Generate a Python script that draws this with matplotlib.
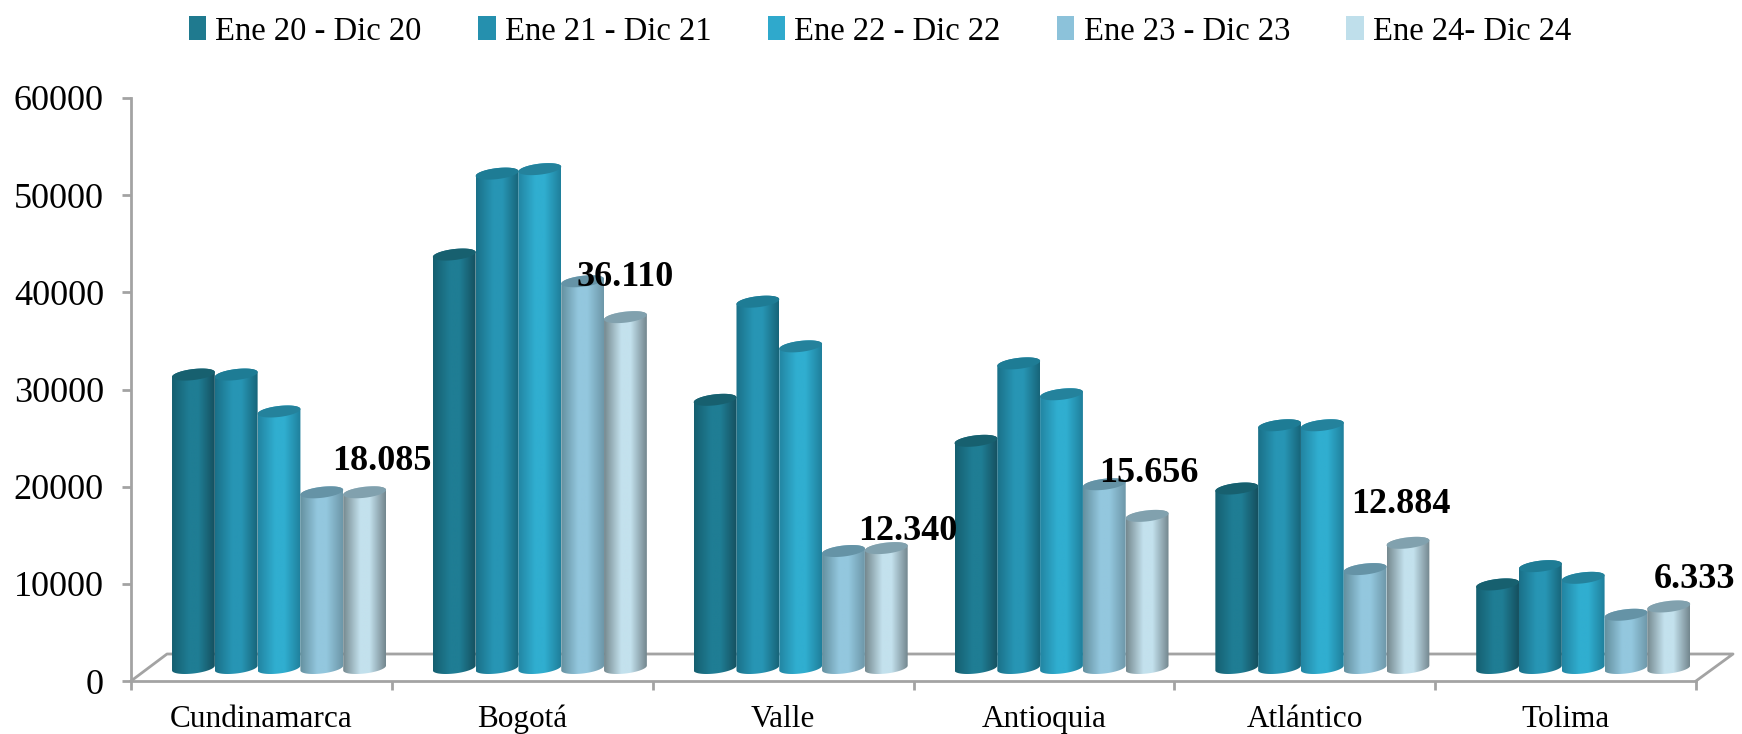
import numpy as np
import matplotlib
matplotlib.use("Agg")
import matplotlib.pyplot as plt
from matplotlib.colors import LinearSegmentedColormap
from matplotlib.patches import Patch, PathPatch
from matplotlib.path import Path

plt.rcParams["font.family"] = ["Liberation Serif", "DejaVu Serif"]

departments = ["Cundinamarca", "Bogotá", "Valle", "Antioquia", "Atlántico", "Tolima"]
series_names = ["Ene 20 - Dic 20", "Ene 21 - Dic 21", "Ene 22 - Dic 22",
                "Ene 23 - Dic 23", "Ene 24- Dic 24"]
ene_20 = [30200, 42550, 27600, 23380, 18470, 8600]
ene_21 = [30200, 50880, 37700, 31350, 24980, 10480]
ene_22 = [26400, 51340, 33100, 28170, 24980, 9280]
ene_23 = [18080, 39800, 12040, 18910, 10180, 5480]
ene_24 = [18085, 36110, 12340, 15656, 12884, 6333]
data_labels = ["18.085", "36.110", "12.340", "15.656", "12.884", "6.333"]
y_ticks = [0, 10000, 20000, 30000, 40000, 50000, 60000]

# pixel offsets of each label from the top of the last bar
label_offsets = [(17, 31), (0, 40), (21, 17), (2, 42), (-7, 38), (26, 27)]

# gradient stops per series: edge, highlight, far edge, cap, legend swatch
BAR_COLORS = [
    ("#155f70", "#1f7d94", "#15505f", "#17606f", "#1f7a8f"),
    ("#1a7088", "#2795b4", "#176479", "#1e7c95", "#2590ae"),
    ("#2285a2", "#30aed0", "#1f7f9b", "#24829c", "#2fa9cc"),
    ("#64909f", "#93c7de", "#6d97a8", "#6593a6", "#8cc2da"),
    ("#75898f", "#c3e1ed", "#73868e", "#81a1ae", "#bfdfeb"),
]
AXIS_COLOR = "#a3a3a3"

PX_X = 6 / 1565      # category units per pixel
PX_Y = 60000 / 583   # value units per pixel
BAR_W = 42.8 * PX_X
GROUP_SHIFT = 17.6 * PX_X
BASE = 13 * PX_Y
CAP_B = 5.5 * PX_Y
TILT = 2.4 * PX_Y / (BAR_W / 2)


def draw_cylinder(ax, x_center, value, colors):
    half = BAR_W / 2
    t = np.linspace(0, np.pi, 40)
    top_y = BASE + value

    # top half and bottom half of the ellipse, sheared to look tilted
    xs_top = x_center + half * np.cos(t)
    ys_top = top_y + CAP_B * np.sin(t) + TILT * half * np.cos(t)
    xs_bot = x_center - half * np.cos(t)
    ys_bot = BASE - CAP_B * np.sin(t) - TILT * half * np.cos(t)
    ys_lower_cap = top_y - CAP_B * np.sin(t) - TILT * half * np.cos(t)

    body = np.column_stack([np.r_[xs_bot, xs_top], np.r_[ys_bot, ys_top]])
    body_path = Path(np.vstack([body, body[0]]), closed=True)
    patch = PathPatch(body_path, fc="none", ec="none", transform=ax.transData)
    ax.add_patch(patch)

    cmap = LinearSegmentedColormap.from_list(
        "bar", [(0, colors[0]), (0.4, colors[1]), (0.62, colors[1]), (1, colors[2])])
    grad = np.linspace(0, 1, 128).reshape(1, -1)
    im = ax.imshow(grad, cmap=cmap, aspect="auto", interpolation="bilinear", zorder=3,
                   extent=(x_center - half, x_center + half, BASE - 2 * CAP_B, top_y + 2 * CAP_B))
    im.set_clip_path(patch)

    cap_x = np.r_[xs_top, xs_bot]
    cap_y = np.r_[ys_top, ys_lower_cap]
    ax.fill(cap_x, cap_y, color=colors[3], lw=0, zorder=3.1, clip_on=False)


def main():
    fig = plt.figure(figsize=(17.42, 7.34), dpi=100)
    ax = fig.add_axes([131 / 1742, 53 / 734, 1565 / 1742, 583 / 734])

    all_series = [ene_20, ene_21, ene_22, ene_23, ene_24]
    for s_idx, values in enumerate(all_series):
        for d_idx, value in enumerate(values):
            x_center = d_idx + 0.5 + GROUP_SHIFT + (s_idx - 2) * BAR_W
            draw_cylinder(ax, x_center, value, BAR_COLORS[s_idx])

    # labels sit on the last series
    for d_idx, label in enumerate(data_labels):
        x_center = d_idx + 0.5 + GROUP_SHIFT + 2 * BAR_W
        ax.annotate(label, (x_center, BASE + ene_24[d_idx]), xytext=label_offsets[d_idx],
                    textcoords="offset pixels", ha="center", va="center",
                    fontsize=26, fontweight="bold", color="black", zorder=5)

    # floor of the 3D box
    floor_x = [0, 36 * PX_X, 6 + 37 * PX_X, 6]
    floor_y = [0, 27 * PX_Y, 27 * PX_Y, 0]
    ax.plot(floor_x, floor_y, color=AXIS_COLOR, lw=2, clip_on=False, zorder=1)

    ax.set_xlim(0, 6)
    ax.set_ylim(0, 60000)
    for side in ("top", "right"):
        ax.spines[side].set_visible(False)
    for side in ("left", "bottom"):
        ax.spines[side].set_color(AXIS_COLOR)
        ax.spines[side].set_linewidth(2)

    ax.set_yticks(y_ticks)
    ax.tick_params(axis="y", length=6.5, width=2, color=AXIS_COLOR, pad=13, labelsize=26)
    ax.set_xticks(range(7))
    ax.set_xticklabels([])
    ax.set_xticks(np.arange(6) + 0.5, minor=True)
    ax.set_xticklabels(departments, minor=True, fontsize=22.5)
    ax.tick_params(axis="x", which="major", length=6.5, width=2, color=AXIS_COLOR)
    ax.tick_params(axis="x", which="minor", length=0, pad=17)

    handles = [Patch(facecolor=c[4], edgecolor="none", label=name)
               for c, name in zip(BAR_COLORS, series_names)]
    fig.legend(handles=handles, ncol=5, loc="upper left", bbox_to_anchor=(189 / 1742, 1 - 16 / 734),
               bbox_transform=fig.transFigure, frameon=False, fontsize=23.5,
               handlelength=0.53, handleheight=0.72, handletextpad=0.28, columnspacing=1.73,
               borderpad=0, borderaxespad=0)

    plt.savefig("out.png", dpi=100)
    plt.close(fig)


if __name__ == "__main__":
    main()
